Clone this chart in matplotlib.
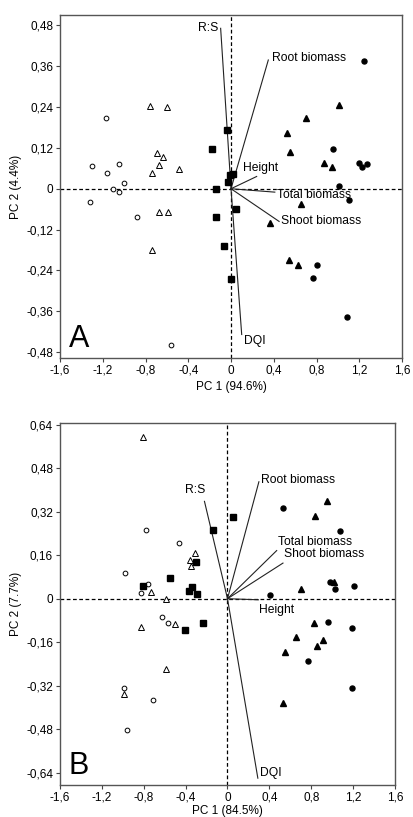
import numpy as np
import matplotlib
matplotlib.use('Agg')
import matplotlib.pyplot as plt

plt.rcParams['font.family'] = ['Liberation Sans', 'DejaVu Sans']

# Panel A scores (PC1, PC2)
a_open_circle_x = [-1.17, -1.30, -1.16, -1.05, -1.00, -1.10, -1.05, -1.32, -0.88, -0.56]
a_open_circle_y = [0.207, 0.068, 0.046, 0.073, 0.016, -0.001, -0.011, -0.038, -0.082, -0.460]
a_open_tri_x = [-0.76, -0.60, -0.69, -0.64, -0.67, -0.74, -0.49, -0.67, -0.59, -0.74]
a_open_tri_y = [0.243, 0.239, 0.105, 0.092, 0.070, 0.047, 0.058, -0.069, -0.069, -0.181]
a_square_x = [-0.034, -0.175, -0.010, 0.019, -0.025, -0.140, -0.143, 0.044, -0.062, -0.003]
a_square_y = [0.172, 0.118, 0.041, 0.043, 0.021, 0.000, -0.083, -0.059, -0.167, -0.265]
a_tri_x = [1.007, 0.70, 0.52, 0.555, 0.873, 0.948, 0.652, 0.365, 0.546, 0.627]
a_tri_y = [0.246, 0.209, 0.165, 0.108, 0.076, 0.063, -0.045, -0.101, -0.209, -0.224]
a_circle_x = [1.245, 0.958, 1.195, 1.273, 1.226, 1.011, 1.104, 0.808, 0.764, 1.082]
a_circle_y = [0.375, 0.117, 0.076, 0.074, 0.063, 0.008, -0.033, -0.224, -0.262, -0.378]

# Panel A loadings
a_load_names = ['R:S', 'Root biomass', 'Height', 'Total biomass', 'Shoot biomass', 'DQI']
a_load_x = [-0.097, 0.349, 0.24, 0.41, 0.45, 0.10]
a_load_y = [0.471, 0.378, 0.036, -0.010, -0.096, -0.428]

# Panel B scores
b_open_circle_x = [-0.78, -0.465, -0.98, -0.764, -0.83, -0.627, -0.57, -0.99, -0.707, -0.96]
b_open_circle_y = [0.252, 0.205, 0.095, 0.053, 0.022, -0.069, -0.090, -0.330, -0.372, -0.484]
b_open_tri_x = [-0.81, -0.306, -0.354, -0.35, -0.73, -0.586, -0.503, -0.83, -0.59, -0.99]
b_open_tri_y = [0.594, 0.168, 0.144, 0.119, 0.025, 0.000, -0.094, -0.103, -0.260, -0.350]
b_square_x = [0.054, -0.143, -0.30, -0.545, -0.81, -0.34, -0.363, -0.293, -0.236, -0.41]
b_square_y = [0.302, 0.254, 0.134, 0.075, 0.047, 0.042, 0.027, 0.017, -0.088, -0.116]
b_tri_x = [0.952, 0.84, 1.022, 0.704, 0.828, 0.656, 0.91, 0.857, 0.551, 0.532]
b_tri_y = [0.360, 0.303, 0.062, 0.035, -0.090, -0.140, -0.152, -0.174, -0.196, -0.383]
b_circle_x = [0.532, 1.076, 0.975, 1.025, 1.207, 0.408, 0.958, 1.185, 0.771, 1.191]
b_circle_y = [0.332, 0.249, 0.063, 0.035, 0.048, 0.015, -0.084, -0.109, -0.230, -0.330]

# Panel B loadings
b_load_names = ['R:S', 'Root biomass', 'Total biomass', 'Shoot biomass', 'Height', 'DQI']
b_load_x = [-0.22, 0.30, 0.47, 0.53, 0.296, 0.29]
b_load_y = [0.358, 0.430, 0.177, 0.131, -0.004, -0.660]

xticks = [-1.6, -1.2, -0.8, -0.4, 0, 0.4, 0.8, 1.2, 1.6]
xtick_labels = ['-1,6', '-1,2', '-0,8', '-0,4', '0', '0,4', '0,8', '1,2', '1,6']
a_yticks = [-0.48, -0.36, -0.24, -0.12, 0, 0.12, 0.24, 0.36, 0.48]
a_ytick_labels = ['-0,48', '-0,36', '-0,24', '-0,12', '0', '0,12', '0,24', '0,36', '0,48']
b_yticks = [-0.64, -0.48, -0.32, -0.16, 0, 0.16, 0.32, 0.48, 0.64]
b_ytick_labels = ['-0,64', '-0,48', '-0,32', '-0,16', '0', '0,16', '0,32', '0,48', '0,64']

fig = plt.figure(figsize=(4.14, 8.17), dpi=100)
axA = fig.add_axes([0.145, 0.5618, 0.826, 0.4198])
axB = fig.add_axes([0.145, 0.0392, 0.809, 0.443])


def draw_scores(ax, ocx, ocy, otx, oty, sqx, sqy, tx, ty, cx, cy):
    ax.plot(ocx, ocy, 'o', ms=3.4, mfc='white', mec='black', mew=0.7, ls='none', zorder=3)
    ax.plot(otx, oty, '^', ms=3.9, mfc='white', mec='black', mew=0.7, ls='none', zorder=3)
    ax.plot(sqx, sqy, 's', ms=4.4, color='black', ls='none', zorder=3)
    ax.plot(tx, ty, '^', ms=3.9, color='black', ls='none', zorder=3)
    ax.plot(cx, cy, 'o', ms=3.6, color='black', ls='none', zorder=3)


def style_axis(ax, yticks, ylabels, ylim, xlabel, ylabel, xpad):
    ax.axhline(0, color='black', ls=(0, (3, 2)), lw=0.9, zorder=1)
    ax.axvline(0, color='black', ls=(0, (3, 2)), lw=0.9, zorder=1)
    ax.set_xlim(-1.6, 1.6)
    ax.set_ylim(*ylim)
    ax.set_xticks(xticks)
    ax.set_xticklabels(xtick_labels)
    ax.set_yticks(yticks)
    ax.set_yticklabels(ylabels)
    ax.tick_params(direction='out', length=3, width=0.8, labelsize=8.5, color='#444444', pad=2)
    for s in ax.spines.values():
        s.set_color('#555555')
        s.set_linewidth(1.0)
    ax.set_xlabel(xlabel, fontsize=8.5, labelpad=xpad)
    ax.set_ylabel(ylabel, fontsize=8.5, labelpad=3)


# Panel A
draw_scores(axA, a_open_circle_x, a_open_circle_y, a_open_tri_x, a_open_tri_y,
            a_square_x, a_square_y, a_tri_x, a_tri_y, a_circle_x, a_circle_y)
for lx, ly in zip(a_load_x, a_load_y):
    axA.plot([0, lx], [0, ly], color='#222222', lw=0.8, zorder=2)
fs = 8.7
axA.text(a_load_x[0] - 0.02, a_load_y[0], a_load_names[0], ha='right', va='center', fontsize=fs)
axA.text(a_load_x[1] + 0.03, a_load_y[1] + 0.005, a_load_names[1], ha='left', va='center', fontsize=fs)
axA.text(0.11, 0.062, a_load_names[2], ha='left', va='center', fontsize=fs)
axA.text(a_load_x[3] + 0.02, -0.018, a_load_names[3], ha='left', va='center', fontsize=fs)
axA.text(a_load_x[4] + 0.015, a_load_y[4], a_load_names[4], ha='left', va='center', fontsize=fs)
axA.text(a_load_x[5] + 0.02, a_load_y[5] - 0.02, a_load_names[5], ha='left', va='center', fontsize=fs)
axA.text(-1.52, -0.485, 'A', fontsize=22, ha='left', va='bottom')
style_axis(axA, a_yticks, a_ytick_labels, (-0.497, 0.51), 'PC 1 (94.6%)', 'PC 2 (4.4%)', 3)

# Panel B
draw_scores(axB, b_open_circle_x, b_open_circle_y, b_open_tri_x, b_open_tri_y,
            b_square_x, b_square_y, b_tri_x, b_tri_y, b_circle_x, b_circle_y)
for lx, ly in zip(b_load_x, b_load_y):
    axB.plot([0, lx], [0, ly], color='#222222', lw=0.8, zorder=2)
axB.text(b_load_x[0] + 0.01, b_load_y[0] + 0.02, b_load_names[0], ha='right', va='bottom', fontsize=fs)
axB.text(b_load_x[1] + 0.02, b_load_y[1] + 0.005, b_load_names[1], ha='left', va='center', fontsize=fs)
axB.text(b_load_x[2] + 0.015, b_load_y[2] + 0.01, b_load_names[2], ha='left', va='bottom', fontsize=fs)
axB.text(b_load_x[3] + 0.01, b_load_y[3] + 0.01, b_load_names[3], ha='left', va='bottom', fontsize=fs)
axB.text(0.305, -0.04, b_load_names[4], ha='left', va='center', fontsize=fs)
axB.text(b_load_x[5] + 0.02, b_load_y[5] + 0.02, b_load_names[5], ha='left', va='center', fontsize=fs)
axB.text(-1.52, -0.672, 'B', fontsize=22, ha='left', va='bottom')
style_axis(axB, b_yticks, b_ytick_labels, (-0.685, 0.646), 'PC 1 (84.5%)', 'PC 2 (7.7%)', 1)

fig.savefig('out.png', dpi=100)
